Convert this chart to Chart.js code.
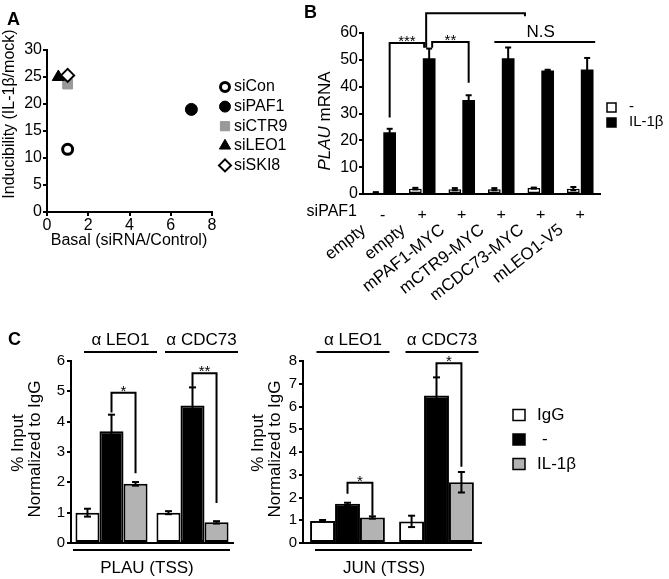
<!DOCTYPE html>
<html>
<head>
<meta charset="utf-8">
<script src="https://cdn.jsdelivr.net/npm/chart.js@4.4.1/dist/chart.umd.min.js"></script>
<style>
  body { margin: 0; background: #fff; }
  #page { position: relative; width: 669px; height: 579px; overflow: hidden; background: #fff;
          font-family: "Liberation Sans", Arial, Helvetica, sans-serif; }
  #page canvas { position: absolute; }
  .tag { position: absolute; font-weight: bold; font-size: 18px; line-height: 1; }
</style>
</head>
<body>
<div id="page">
  <canvas id="chartA" width="310" height="260" style="left:0;top:0"></canvas>
  <canvas id="chartB" width="419" height="300" style="left:250px;top:0"></canvas>
  <canvas id="chartPlau" width="250" height="259" style="left:0;top:320px"></canvas>
  <canvas id="chartJun" width="360" height="259" style="left:240px;top:320px"></canvas>
  <div class="tag" style="left:7px;top:10px">A</div>
  <div class="tag" style="left:304px;top:3px">B</div>
  <div class="tag" style="left:8px;top:330px">C</div>
</div>
<script>
const FONT = '"Liberation Sans", Arial, Helvetica, sans-serif';

// A - inducibility vs basal level after knockdown
const knockdowns = ['siCon', 'siPAF1', 'siCTR9', 'siLEO1', 'siSKI8'];
const basal = [1.0, 7.0, 1.0, 0.55, 1.0];
const inducibility = [11.6, 19.0, 23.7, 25.0, 25.3];

// B - PLAU mRNA rescue
const siPAF1 = ['-', '+', '+', '+', '+', '+'];
const constructs = ['empty', 'empty', 'mPAF1-MYC', 'mCTR9-MYC', 'mCDC73-MYC', 'mLEO1-V5'];
const plauMock = [0.5, 2.0, 1.8, 1.8, 2.2, 2.0];
const plauMockErr = [0.2, 0.3, 0.4, 0.4, 0.2, 0.6];
const plauIL1b = [23.0, 50.6, 35.0, 50.6, 46.0, 46.4];
const plauIL1bErr = [1.3, 3.6, 1.8, 4.0, 0.3, 4.3];

// C - ChIP, % input normalized to IgG
const antibodies = ['\u03b1 LEO1', '\u03b1 CDC73'];
const chipSeries = ['IgG', '-', 'IL-1\u03b2'];
const plauIgG = [1.0, 1.0];
const plauIgGErr = [0.13, 0.05];
const plauMockChip = [3.68, 4.53];
const plauMockChipErr = [0.55, 0.6];
const plauIL1bChip = [1.95, 0.68];
const plauIL1bChipErr = [0.06, 0.04];
const junIgG = [0.97, 0.95];
const junIgGErr = [0.04, 0.25];
const junMockChip = [1.72, 6.48];
const junMockChipErr = [0.05, 0.8];
const junIL1bChip = [1.12, 2.67];
const junIL1bChipErr = [0.05, 0.45];

function label(ctx, s, x, y, size, o = {}) {
  ctx.save();
  ctx.font = (o.style || '') + ' ' + size + 'px ' + FONT;
  ctx.fillStyle = '#000';
  ctx.textAlign = o.align || 'center';
  ctx.textBaseline = o.baseline || 'middle';
  ctx.translate(x, y);
  if (o.rot) ctx.rotate(o.rot);
  ctx.fillText(s, 0, 0);
  ctx.restore();
}

function path(ctx, pts, w) {
  ctx.save();
  ctx.strokeStyle = '#000';
  ctx.lineWidth = w || 2;
  ctx.beginPath();
  pts.forEach((p, i) => i ? ctx.lineTo(p[0], p[1]) : ctx.moveTo(p[0], p[1]));
  ctx.stroke();
  ctx.restore();
}

function bracket(ctx, x1, y1, x2, y2, top, text) {
  path(ctx, [[x1, y1], [x1, top], [x2, top], [x2, y2]]);
  if (text) label(ctx, text, (x1 + x2) / 2, top + 3, 15, { baseline: 'alphabetic' });
}

function valueAxis(min, max, step, size, pad, fit) {
  return {
    type: 'linear', min, max,
    ticks: { stepSize: step, color: '#000', font: { family: FONT, size }, padding: pad },
    grid: { drawOnChartArea: false, color: '#000', lineWidth: 2, tickLength: 4 },
    border: { color: '#000', width: 2 },
    afterFit: fit
  };
}

const errorBars = {
  id: 'errorBars',
  afterDatasetsDraw(chart, args, opts) {
    const ctx = chart.ctx, y = chart.scales.y, cap = opts.cap || 3;
    chart.data.datasets.forEach((ds, di) => {
      if (!ds.errors) return;
      chart.getDatasetMeta(di).data.forEach((bar, i) => {
        const v = ds.data[i], e = ds.errors[i];
        const t = y.getPixelForValue(v + e), b = y.getPixelForValue(Math.max(v - e, 0));
        path(ctx, [[bar.x, b], [bar.x, t]], opts.width);
        path(ctx, [[bar.x - cap, t], [bar.x + cap, t]], opts.width);
        path(ctx, [[bar.x - cap, b], [bar.x + cap, b]], opts.width);
      });
    });
  }
};

const common = {
  responsive: false,
  animation: false,
  devicePixelRatio: 1,
};

// ---------- A ----------
const markerStyles = [
  { pointStyle: 'circle', pointRadius: 5, pointBackgroundColor: '#fff', pointBorderColor: '#000', pointBorderWidth: 3 },
  { pointStyle: 'circle', pointRadius: 6, pointBackgroundColor: '#000', pointBorderColor: '#000', pointBorderWidth: 1 },
  { pointStyle: 'rect', pointRadius: 7, pointBackgroundColor: '#999', pointBorderColor: '#999', pointBorderWidth: 1 },
  { pointStyle: 'triangle', pointRadius: 7, pointBackgroundColor: '#000', pointBorderColor: '#000', pointBorderWidth: 1 },
  { pointStyle: 'rectRot', pointRadius: 6.5, pointBackgroundColor: '#fff', pointBorderColor: '#000', pointBorderWidth: 2 }
];

const panelA = {
  id: 'panelA',
  afterDraw(chart) {
    const ctx = chart.ctx;
    label(ctx, 'Inducibility (IL-1\u03b2/mock)', 10, 114, 16, { rot: -Math.PI / 2 });
    label(ctx, 'Basal (siRNA/Control)', 129, 241, 16);
    chart.data.datasets.forEach((ds, i) => {
      const ly = 87 + i * 19.6;
      ctx.save();
      ctx.fillStyle = ds.pointBackgroundColor;
      ctx.strokeStyle = ds.pointBorderColor;
      ctx.lineWidth = ds.pointBorderWidth;
      Chart.helpers.drawPoint(ctx, { pointStyle: ds.pointStyle, radius: ds.pointRadius - 0.5,
        borderWidth: ds.pointBorderWidth, rotation: 0 }, 225, ly);
      ctx.restore();
      label(ctx, ds.label, 234, ly, 16, { align: 'left' });
    });
  }
};

new Chart(document.getElementById('chartA'), {
  type: 'scatter',
  data: {
    datasets: knockdowns.map((name, i) => Object.assign({
      label: name,
      data: [{ x: basal[i], y: inducibility[i] }],
      order: knockdowns.length - i
    }, markerStyles[i]))
  },
  options: Object.assign({}, common, {
    layout: { padding: { left: 0, top: 50, right: 98, bottom: 0 } },
    plugins: { legend: { display: false }, tooltip: { enabled: false } },
    scales: {
      x: valueAxis(0, 8, 2, 16, 0, s => { s.height = 48; }),
      y: valueAxis(0, 30, 5, 16, 1, s => { s.width = 47; })
    }
  }),
  plugins: [panelA]
});

// ---------- B ----------
const panelB = {
  id: 'panelB',
  afterDraw(chart) {
    const ctx = chart.ctx, x = chart.scales.x, y = chart.scales.y;
    const bx = (i, d) => chart.getDatasetMeta(d).data[i].x;
    const by = v => y.getPixelForValue(v);

    ctx.save();
    ctx.translate(75, 121);
    ctx.rotate(-Math.PI / 2);
    ctx.fillStyle = '#000';
    ctx.textBaseline = 'middle';
    ctx.textAlign = 'left';
    ctx.font = 'italic 17px ' + FONT;
    const w1 = ctx.measureText('PLAU').width;
    ctx.font = '17px ' + FONT;
    const w2 = ctx.measureText(' mRNA').width;
    ctx.font = 'italic 17px ' + FONT;
    ctx.fillText('PLAU', -(w1 + w2) / 2, 0);
    ctx.font = '17px ' + FONT;
    ctx.fillText(' mRNA', -(w1 + w2) / 2 + w1, 0);
    ctx.restore();

    label(ctx, 'siPAF1', 107, 212, 16, { align: 'right' });

    bracket(ctx, bx(0, 1), by(28.5), bx(1, 1) - 5, by(54.5), by(56.3), '***');
    bracket(ctx, bx(1, 1) + 3, by(54.5), bx(2, 1), by(41.5), by(56.6), '**');
    bracket(ctx, bx(1, 1) - 3, by(54.5), x.getPixelForValue(3.6), by(66.2), by(67.4));
    path(ctx, [[bx(3, 0), by(56.6)], [bx(5, 1) + 8, by(56.6)]]);
    label(ctx, 'N.S', x.getPixelForValue(4), by(60.4), 17);

    chart.data.datasets.forEach((ds, i) => {
      const ly = 107 + i * 15;
      ctx.save();
      ctx.fillStyle = ds.backgroundColor;
      ctx.strokeStyle = '#000';
      ctx.lineWidth = 1.5;
      ctx.fillRect(357, ly - 4, 9, 9);
      ctx.strokeRect(357, ly - 4, 9, 9);
      ctx.restore();
      label(ctx, ds.label, 379, ly, 15, { align: 'left' });
    });
  }
};

const flatAxis = {
  type: 'category',
  grid: { display: false },
  border: { color: '#000', width: 2 }
};

new Chart(document.getElementById('chartB'), {
  type: 'bar',
  data: {
    labels: constructs,
    datasets: [
      { label: '-', data: plauMock, errors: plauMockErr, backgroundColor: '#fff',
        borderColor: '#000', borderWidth: 1.5, borderSkipped: false },
      { label: 'IL-1\u03b2', data: plauIL1b, errors: plauIL1bErr, backgroundColor: '#000',
        borderColor: '#000', borderWidth: 0 }
    ]
  },
  options: Object.assign({}, common, {
    layout: { padding: { left: 0, top: 33, right: 69, bottom: 0 } },
    datasets: { bar: { categoryPercentage: 0.7, barPercentage: 0.92 } },
    plugins: { legend: { display: false }, tooltip: { enabled: false }, errorBars: { cap: 3, width: 2 } },
    scales: {
      x: Object.assign({}, flatAxis, {
        labels: siPAF1, weight: 0,
        ticks: { color: '#000', font: { family: FONT, size: 16 }, padding: 4, maxRotation: 0, autoSkip: false },
        afterFit: s => { s.height = 24; }
      }),
      names: {
        type: 'category', labels: constructs, position: 'bottom', offset: true, weight: 1,
        grid: { display: false }, border: { display: false },
        ticks: { color: '#000', font: { family: FONT, size: 17 }, padding: -6, minRotation: 38, maxRotation: 38,
                 labelOffset: -19, autoSkip: false },
        afterFit: s => { s.height = 82; }
      },
      y: valueAxis(0, 60, 10, 16, 1, s => { s.width = 113; })
    }
  }),
  plugins: [errorBars, panelB]
});

// ---------- C ----------
function chipPanel(id, cfg) {
  return {
    id,
    afterDraw(chart) {
      const ctx = chart.ctx, x = chart.scales.x, y = chart.scales.y;
      const bx = (i, d) => chart.getDatasetMeta(d).data[i].x;
      const by = v => y.getPixelForValue(v);
      x.getLabels().forEach((lab, i) => {
        const c = x.getPixelForValue(i) + cfg.headShift;
        label(ctx, lab, c, 20, 17);
        path(ctx, [[c - 36.5, 32], [c + 36.5, 32]]);
      });
      path(ctx, [[x.left + cfg.baseL, 230], [x.right - cfg.baseR, 230]]);
      label(ctx, cfg.locus, cfg.locusX, 248, 17);
      label(ctx, '% Input', 18, 123, 17, { rot: -Math.PI / 2 });
      label(ctx, 'Normalized to IgG', 35, 129, 17, { rot: -Math.PI / 2 });
      cfg.marks.forEach(m => bracket(ctx, bx(m.i, 1), by(m.from), bx(m.i, 2), by(m.to), by(m.top), m.text));
      if (cfg.legend) {
        chart.data.datasets.forEach((ds, i) => {
          const ly = 95 + i * 24.5;
          ctx.save();
          ctx.fillStyle = ds.backgroundColor;
          ctx.strokeStyle = '#000';
          ctx.lineWidth = 1.5;
          ctx.fillRect(273, ly - 5.5, 12, 11);
          ctx.strokeRect(273, ly - 5.5, 12, 11);
          ctx.restore();
          label(ctx, ds.label, i === 1 ? 302 : 297, ly, 17, { align: 'left' });
        });
      }
    }
  };
}

function chipChart(canvasId, series, errs, max, yWidth, padRight, catPct, panel) {
  const fills = ['#fff', '#000', '#b3b3b3'];
  return new Chart(document.getElementById(canvasId), {
    type: 'bar',
    data: {
      labels: antibodies,
      datasets: chipSeries.map((name, i) => ({
        label: name, data: series[i], errors: errs[i], backgroundColor: fills[i],
        borderColor: '#000', borderWidth: 2, borderSkipped: false
      }))
    },
    options: Object.assign({}, common, {
      layout: { padding: { left: 0, top: 41, right: padRight, bottom: 0 } },
      datasets: { bar: { categoryPercentage: catPct, barPercentage: 1 } },
      plugins: { legend: { display: false }, tooltip: { enabled: false }, errorBars: { cap: 3.5, width: 2 } },
      scales: {
        x: Object.assign({}, flatAxis, { ticks: { display: false }, afterFit: s => { s.height = 36; } }),
        y: valueAxis(0, max, 1, 15, 2, s => { s.width = yWidth; })
      }
    }),
    plugins: [errorBars, panel]
  });
}

chipChart('chartPlau',
  [plauIgG, plauMockChip, plauIL1bChip],
  [plauIgGErr, plauMockChipErr, plauIL1bChipErr],
  6, 71, 17, 0.89,
  chipPanel('plauPanel', {
    headShift: 9, baseL: 2, baseR: 3, locus: 'PLAU (TSS)', locusX: 147, legend: false,
    marks: [
      { i: 0, from: 4.3, to: 2.3, top: 4.95, text: '*' },
      { i: 1, from: 5.15, to: 1.32, top: 5.6, text: '**' }
    ]
  }));

chipChart('chartJun',
  [junIgG, junMockChip, junIL1bChip],
  [junIgGErr, junMockChipErr, junIL1bChipErr],
  8, 63, 119, 0.84,
  chipPanel('junPanel', {
    headShift: 5.5, baseL: 12, baseR: 9, locus: 'JUN (TSS)', locusX: 144, legend: true,
    marks: [
      { i: 0, from: 2.17, to: 1.2, top: 2.65, text: '*' },
      { i: 1, from: 7.3, to: 3.35, top: 7.9, text: '*' }
    ]
  }));
</script>
</body>
</html>
